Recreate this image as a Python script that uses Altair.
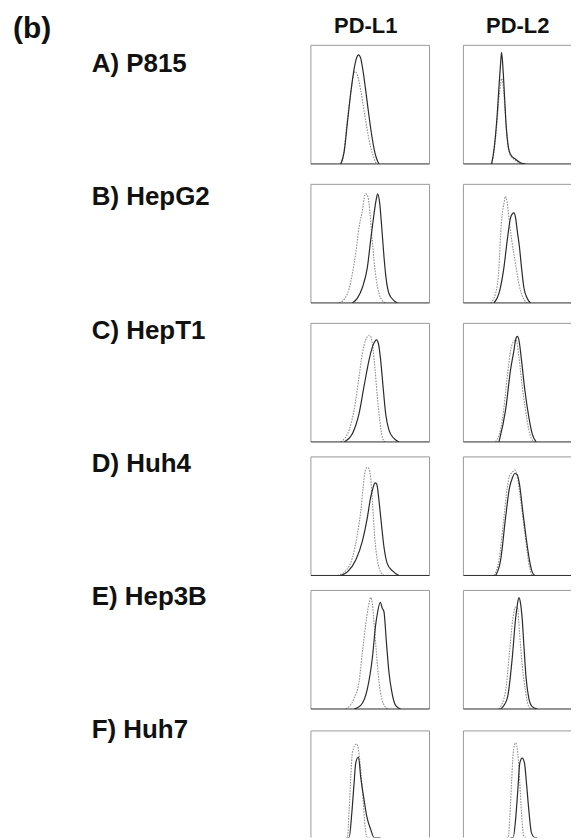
import altair as alt
import pandas as pd

FONT = "Liberation Sans"

figure_tag = "(b)"
markers = ["PD-L1", "PD-L2"]
cell_lines = ["A) P815", "B) HepG2", "C) HepT1", "D) Huh4", "E) Hep3B", "F) Huh7"]

# ---- curve data (x: relative fluorescence 0-100, y: relative count 0-100) ----
# A) P815
p815_l1_iso_x = [25.2, 28.0, 30.8, 33.6, 35.9, 37.3, 39.2, 42.0, 44.8, 47.6, 50.4, 53.2, 55.2]
p815_l1_iso_y = [0, 12, 38, 60, 75, 78, 75, 62, 45, 28, 14, 5, 0]
p815_l1_ab_x = [25.2, 28.0, 30.8, 33.6, 36.4, 38.4, 40.1, 42.0, 44.0, 46.2, 48.5, 50.7, 53.2, 55.2, 57.4]
p815_l1_ab_y = [0, 10, 35, 60, 80, 89, 92, 89, 78, 62, 44, 28, 13, 5, 0]
p815_l2_iso_x = [23.8, 25.8, 28.6, 30.0, 31.4, 32.2, 33.3, 34.7, 36.1, 37.8, 39.8, 44.0, 48.2]
p815_l2_iso_y = [0, 10, 38, 55, 68, 72, 68, 52, 30, 14, 7, 3, 0]
p815_l2_ab_x = [23.8, 25.8, 28.6, 30.0, 31.4, 32.2, 33.3, 34.7, 36.1, 37.8, 39.8, 44.0, 48.2, 52.4]
p815_l2_ab_y = [0, 12, 43, 65, 85, 94, 82, 57, 32, 15, 8, 4, 1, 0]

# B) HepG2
hepg2_l1_iso_x = [23.8, 29.4, 32.2, 35.0, 37.8, 40.6, 43.4, 45.4, 46.2, 48.2, 49.6, 51.3, 53.2, 55.2, 57.4, 60.2, 63.0]
hepg2_l1_iso_y = [0, 5, 12, 25, 42, 64, 78, 91, 92, 89, 78, 58, 36, 19, 8, 2, 0]
hepg2_l1_ab_x = [35.0, 39.2, 43.4, 47.6, 50.4, 53.2, 55.2, 56.3, 58.0, 59.7, 61.6, 63.6, 65.8, 70.0, 72.8]
hepg2_l1_ab_y = [0, 4, 13, 30, 53, 75, 88, 92, 84, 64, 39, 19, 8, 2, 0]
hepg2_l2_iso_x = [23.0, 27.2, 30.0, 31.4, 32.8, 34.2, 35.6, 37.0, 38.9, 41.2, 44.0, 46.8, 49.6, 53.8]
hepg2_l2_iso_y = [0, 8, 30, 58, 75, 84, 90, 84, 67, 50, 33, 16, 6, 0]
hepg2_l2_ab_x = [25.8, 30.0, 34.2, 37.0, 39.8, 41.2, 42.6, 44.0, 45.4, 47.3, 49.0, 51.0, 53.8, 56.6]
hepg2_l2_ab_y = [0, 8, 30, 53, 72, 75, 76, 72, 61, 47, 30, 13, 4, 0]

# C) HepT1
hept1_l1_iso_x = [25.2, 32.2, 36.4, 40.6, 43.4, 46.2, 49.0, 50.4, 52.4, 54.1, 56.0, 58.0, 60.2, 62.5]
hept1_l1_iso_y = [0, 10, 27, 55, 75, 86, 90, 89, 78, 61, 38, 19, 4, 0]
hept1_l1_ab_x = [28.0, 35.0, 40.6, 44.8, 49.0, 51.8, 54.1, 55.2, 56.9, 58.8, 60.8, 63.0, 65.8, 70.0, 74.2]
hept1_l1_ab_y = [0, 7, 24, 47, 69, 80, 85, 86, 83, 69, 47, 24, 10, 3, 0]
hept1_l2_iso_x = [27.2, 32.8, 37.0, 39.8, 42.6, 44.5, 46.8, 49.6, 52.4, 55.2, 59.4]
hept1_l2_iso_y = [0, 18, 55, 77, 85, 86, 72, 47, 27, 10, 0]
hept1_l2_ab_x = [30.0, 35.6, 39.8, 42.6, 44.0, 45.4, 46.8, 49.0, 51.8, 55.2, 58.0, 61.3]
hept1_l2_ab_y = [0, 27, 61, 77, 86, 89, 86, 69, 44, 21, 7, 0]

# D) Huh4
huh4_l1_iso_x = [22.4, 29.4, 35.0, 39.2, 42.0, 44.0, 45.7, 47.6, 49.0, 50.4, 51.8, 53.8, 56.0, 58.8, 61.6]
huh4_l1_iso_y = [0, 4, 15, 35, 54, 74, 88, 91, 90, 82, 63, 32, 13, 3, 0]
huh4_l1_ab_x = [25.2, 30.8, 37.8, 43.4, 47.6, 50.4, 52.4, 54.1, 55.5, 57.4, 59.7, 61.6, 64.4, 68.6, 74.2]
huh4_l1_ab_y = [0, 3, 13, 29, 49, 66, 74, 78, 77, 63, 41, 24, 10, 4, 0]
huh4_l2_iso_x = [25.8, 30.0, 34.2, 37.0, 38.9, 41.2, 43.4, 45.4, 47.3, 50.1, 52.9, 55.7, 58.0]
huh4_l2_iso_y = [0, 13, 49, 74, 84, 87, 89, 84, 71, 49, 27, 7, 0]
huh4_l2_ab_x = [27.2, 31.4, 35.6, 38.9, 41.2, 43.4, 45.4, 47.3, 50.1, 52.9, 55.7, 58.0, 60.2]
huh4_l2_ab_y = [0, 13, 49, 74, 82, 86, 85, 77, 54, 32, 13, 3, 0]

# E) Hep3B
hep3b_l1_iso_x = [29.4, 36.4, 40.6, 43.4, 46.2, 48.2, 50.4, 51.8, 53.2, 55.2, 57.4, 59.7, 62.5, 65.3]
hep3b_l1_iso_y = [0, 9, 23, 48, 71, 85, 94, 89, 73, 48, 23, 9, 2, 0]
hep3b_l1_ab_x = [36.4, 42.0, 47.6, 51.8, 54.6, 56.3, 58.5, 60.2, 61.6, 63.6, 65.8, 68.1, 71.4, 75.6]
hep3b_l1_ab_y = [0, 3, 17, 43, 71, 82, 90, 85, 82, 57, 31, 15, 3, 0]
hep3b_l2_iso_x = [30.0, 35.6, 38.9, 41.7, 44.0, 45.7, 47.3, 49.6, 52.4, 55.2, 58.0]
hep3b_l2_iso_y = [0, 15, 48, 76, 86, 85, 65, 37, 15, 2, 0]
hep3b_l2_ab_x = [31.4, 37.0, 41.2, 44.0, 45.4, 46.8, 48.2, 49.6, 51.0, 52.9, 55.2, 58.0, 62.2]
hep3b_l2_ab_y = [0, 9, 43, 76, 87, 94, 89, 76, 54, 26, 9, 2, 0]

# F) Huh7
huh7_l1_iso_x = [29.4, 30.8, 32.2, 33.6, 35.0, 38.4, 40.1, 42.0, 44.0, 45.7, 47.6, 49.6]
huh7_l1_iso_y = [0, 8, 33, 61, 82, 89, 84, 67, 42, 19, 5, 0]
huh7_l1_ab_x = [30.8, 32.2, 34.5, 36.4, 37.8, 40.1, 42.0, 44.8, 47.1, 50.4, 53.2, 56.9, 58.8]
huh7_l1_ab_y = [0, 8, 31, 56, 73, 78, 61, 42, 28, 17, 8, 1, 0]
huh7_l2_iso_x = [36.1, 37.8, 39.2, 40.6, 42.0, 44.0, 45.9, 47.6, 49.0, 51.0, 53.8]
huh7_l2_iso_y = [0, 8, 28, 56, 81, 90, 81, 56, 31, 11, 0]
huh7_l2_ab_x = [39.8, 42.0, 44.0, 45.9, 47.6, 49.6, 51.5, 53.2, 55.2, 57.4, 60.2, 62.2]
huh7_l2_ab_y = [0, 8, 25, 50, 73, 77, 73, 56, 33, 14, 3, 0]

panel_data = [
    [(p815_l1_iso_x, p815_l1_iso_y, p815_l1_ab_x, p815_l1_ab_y),
     (p815_l2_iso_x, p815_l2_iso_y, p815_l2_ab_x, p815_l2_ab_y)],
    [(hepg2_l1_iso_x, hepg2_l1_iso_y, hepg2_l1_ab_x, hepg2_l1_ab_y),
     (hepg2_l2_iso_x, hepg2_l2_iso_y, hepg2_l2_ab_x, hepg2_l2_ab_y)],
    [(hept1_l1_iso_x, hept1_l1_iso_y, hept1_l1_ab_x, hept1_l1_ab_y),
     (hept1_l2_iso_x, hept1_l2_iso_y, hept1_l2_ab_x, hept1_l2_ab_y)],
    [(huh4_l1_iso_x, huh4_l1_iso_y, huh4_l1_ab_x, huh4_l1_ab_y),
     (huh4_l2_iso_x, huh4_l2_iso_y, huh4_l2_ab_x, huh4_l2_ab_y)],
    [(hep3b_l1_iso_x, hep3b_l1_iso_y, hep3b_l1_ab_x, hep3b_l1_ab_y),
     (hep3b_l2_iso_x, hep3b_l2_iso_y, hep3b_l2_ab_x, hep3b_l2_ab_y)],
    [(huh7_l1_iso_x, huh7_l1_iso_y, huh7_l1_ab_x, huh7_l1_ab_y),
     (huh7_l2_iso_x, huh7_l2_iso_y, huh7_l2_ab_x, huh7_l2_ab_y)],
]

# ---- layout (pixels) ----
PW, PH = 119, 119          # full panel size
PW_RIGHT = 108             # right column is cut by the page edge
PH_LAST = 107              # last row is cut by the page edge
LABEL_W = 271
HEADER_H = 35.5
COL_GAP = 32
LABEL_CELL_H = 100
LABEL_GAP = 33.6
label_base = 27
header_x = [56, 57.5]
FRAME = "#9a9a9a"
BASE = "#2a2a2a"


def rule(color, **enc):
    return alt.Chart(pd.DataFrame({"r": [0]})).mark_rule(
        color=color, strokeWidth=1).encode(**enc)


def panel(ix, iy, ax, ay, w, h, right_edge=True, bottom_edge=True):
    xs = alt.Scale(domain=[0, 100 * w / PW], nice=False, zero=False, clamp=True)
    ys = alt.Scale(domain=[100 * (PH - h) / PH, 100], nice=False, zero=False, clamp=True)
    iso = pd.DataFrame({"x": ix, "y": iy})
    ab = pd.DataFrame({"x": ax, "y": ay})
    l_iso = alt.Chart(iso).mark_line(color="#909090", strokeWidth=1.1, clip=True,
                                     strokeDash=[1.6, 1.2], interpolate="monotone").encode(
        x=alt.X("x:Q", scale=xs, axis=None),
        y=alt.Y("y:Q", scale=ys, axis=None),
    )
    l_ab = alt.Chart(ab).mark_line(color="#2a2a2a", strokeWidth=1.2, clip=True,
                                   interpolate="monotone").encode(
        x=alt.X("x:Q", scale=xs, axis=None),
        y=alt.Y("y:Q", scale=ys, axis=None),
    )
    layers = [
        rule(FRAME, x=alt.value(0), x2=alt.value(w), y=alt.value(0)),
        rule(FRAME, x=alt.value(0), y=alt.value(0), y2=alt.value(h)),
    ]
    if right_edge:
        layers.append(rule(FRAME, x=alt.value(w), y=alt.value(0), y2=alt.value(h)))
    layers += [l_iso, l_ab]
    if bottom_edge:
        layers.append(rule(BASE, x=alt.value(0), x2=alt.value(w), y=alt.value(h)))
    return alt.layer(*layers).properties(width=w, height=h)


def text_cell(text, x, base, size, w, h, align="left"):
    return alt.Chart(pd.DataFrame({"t": [text]})).mark_text(
        font=FONT, fontSize=size, fontWeight="bold", color="#111",
        align=align, baseline="alphabetic").encode(
        x=alt.value(x), y=alt.value(base), text="t:N").properties(width=w, height=h)


header = alt.hconcat(
    text_cell(figure_tag, 5, 29, 30, LABEL_W, HEADER_H),
    text_cell(markers[0], header_x[0], 24, 22, PW, HEADER_H, align="center"),
    text_cell(markers[1], header_x[1], 24, 22, PW_RIGHT, HEADER_H, align="center"),
    spacing=COL_GAP,
)

label_col = alt.vconcat(
    *[text_cell(name, 84, label_base, 26, LABEL_W, LABEL_CELL_H) for name in cell_lines],
    spacing=LABEL_GAP,
)


def column(j):
    w = PW if j == 0 else PW_RIGHT
    cells = []
    for i in range(len(cell_lines)):
        last = i == len(cell_lines) - 1
        ix, iy, ax, ay = panel_data[i][j]
        cells.append(panel(ix, iy, ax, ay, w, PH_LAST if last else PH,
                           right_edge=(j == 0), bottom_edge=not last))
    g1 = alt.vconcat(cells[0], cells[1], cells[2], spacing=18.5)
    g2 = alt.vconcat(g1, cells[3], cells[4], spacing=13)
    return alt.vconcat(g2, cells[5], spacing=20)


body = alt.hconcat(label_col, column(0), column(1), spacing=COL_GAP)

chart = alt.vconcat(header, body, spacing=-2).properties(
    padding={"left": 0, "top": 0, "right": 0, "bottom": 0}
).configure_view(strokeWidth=0)

chart.save("out.html", embed_options={"renderer": "svg", "actions": False})
